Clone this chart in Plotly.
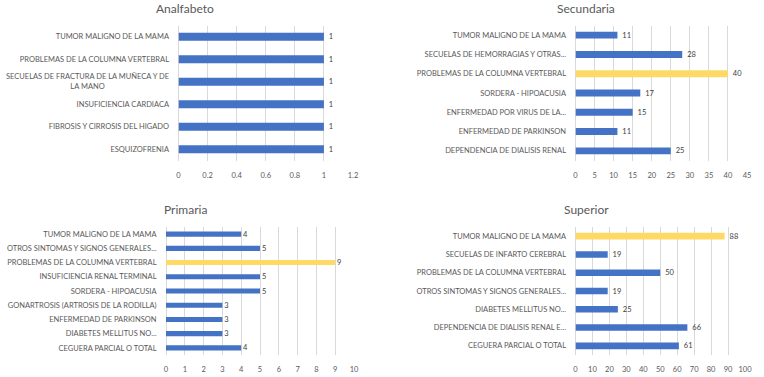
import plotly.graph_objects as go

BLUE = "#4472C4"
GOLD = "#FFD966"

anal_cats = ["TUMOR MALIGNO DE LA MAMA", "PROBLEMAS DE LA COLUMNA VERTEBRAL",
             "SECUELAS DE FRACTURA DE LA MUÑECA Y DE<br>LA MANO", "INSUFICIENCIA CARDIACA",
             "FIBROSIS Y CIRROSIS DEL HIGADO", "ESQUIZOFRENIA"]
anal_vals = [1, 1, 1, 1, 1, 1]
anal_hl = [False] * 6

sec_cats = ["TUMOR MALIGNO DE LA MAMA", "SECUELAS DE HEMORRAGIAS Y OTRAS...",
            "PROBLEMAS DE LA COLUMNA VERTEBRAL", "SORDERA - HIPOACUSIA",
            "ENFERMEDAD POR VIRUS DE LA...", "ENFERMEDAD DE PARKINSON",
            "DEPENDENCIA DE DIALISIS RENAL"]
sec_vals = [11, 28, 40, 17, 15, 11, 25]
sec_hl = [False, False, True, False, False, False, False]

pri_cats = ["TUMOR MALIGNO DE LA MAMA", "OTROS SINTOMAS Y SIGNOS GENERALES...",
            "PROBLEMAS DE LA COLUMNA VERTEBRAL", "INSUFICIENCIA RENAL TERMINAL",
            "SORDERA - HIPOACUSIA", "GONARTROSIS (ARTROSIS DE LA RODILLA)",
            "ENFERMEDAD DE PARKINSON", "DIABETES MELLITUS NO...", "CEGUERA PARCIAL O TOTAL"]
pri_vals = [4, 5, 9, 5, 5, 3, 3, 3, 4]
pri_hl = [False, False, True, False, False, False, False, False, False]

sup_cats = ["TUMOR MALIGNO DE LA MAMA", "SECUELAS DE INFARTO CEREBRAL",
            "PROBLEMAS DE LA COLUMNA VERTEBRAL", "OTROS SINTOMAS Y SIGNOS GENERALES...",
            "DIABETES MELLITUS NO...", "DEPENDENCIA DE DIALISIS RENAL E...",
            "CEGUERA PARCIAL O TOTAL"]
sup_vals = [88, 19, 50, 19, 25, 66, 61]
sup_hl = [True, False, False, False, False, False, False]

titles = ["Analfabeto", "Secundaria", "Primaria", "Superior"]

W, H = 764, 377
def px_y(p):
    return 1 - p / H
def px_x(p):
    return p / W

panels = [
    dict(cats=anal_cats, vals=anal_vals, hl=anal_hl, rng=[0, 1.2], dt=0.2,
         xd=[178.5, 353], yd=[25.5, 160.5], tx=185, ty=8),
    dict(cats=sec_cats, vals=sec_vals, hl=sec_hl, rng=[0, 45], dt=5,
         xd=[575.5, 747], yd=[25.5, 160.5], tx=586, ty=8),
    dict(cats=pri_cats, vals=pri_vals, hl=pri_hl, rng=[0, 10], dt=1,
         xd=[166, 354], yd=[227, 355], tx=185, ty=209),
    dict(cats=sup_cats, vals=sup_vals, hl=sup_hl, rng=[0, 100], dt=10,
         xd=[575.5, 745], yd=[227, 355], tx=586, ty=209),
]

FONT = "Lato"
TXT = "#595959"
TICKGAP = 7

fig = go.Figure()
layout = dict(width=W, height=H, margin=dict(l=0, r=0, t=0, b=0, autoexpand=False),
              paper_bgcolor="white", plot_bgcolor="white", showlegend=False,
              font=dict(family=FONT, color=TXT), annotations=[])

for i, p in enumerate(panels):
    n = i + 1
    xa = "x" if n == 1 else f"x{n}"
    ya = "y" if n == 1 else f"y{n}"
    fig.add_trace(go.Bar(
        y=p["cats"], x=p["vals"], orientation="h",
        marker=dict(color=[GOLD if h else BLUE for h in p["hl"]], line=dict(width=0)),
        text=["\u00a0" + str(v) for v in p["vals"]], textposition="outside",
        textfont=dict(size=7.5, color="#404040", family=FONT),
        constraintext="none",
        cliponaxis=False, width=0.36,
        xaxis=xa, yaxis=ya, hoverinfo="skip"))
    # multi-line category labels are drawn centred (as in the reference) via annotations
    ticktext = ["" if "<br>" in c else c for c in p["cats"]]
    for c in p["cats"]:
        if "<br>" in c:
            layout["annotations"].append(dict(
                text=c, x=px_x(p["xd"][0] - TICKGAP - 1), y=c, xref="paper", yref=ya,
                xanchor="right", yanchor="middle", align="center", showarrow=False,
                font=dict(size=7.5, color=TXT, family=FONT)))
    layout["xaxis" if n == 1 else f"xaxis{n}"] = dict(
        domain=[px_x(p["xd"][0]), px_x(p["xd"][1])], range=p["rng"], dtick=p["dt"],
        showgrid=True, gridcolor="#D9D9D9", gridwidth=1, zeroline=True,
        zerolinecolor="#D9D9D9", zerolinewidth=1, showline=False,
        ticks="outside", ticklen=7, tickcolor="rgba(0,0,0,0)", automargin=False,
        tickfont=dict(size=7.5, color=TXT, family=FONT), anchor=ya, fixedrange=True)
    layout["yaxis" if n == 1 else f"yaxis{n}"] = dict(
        domain=[px_y(p["yd"][1]), px_y(p["yd"][0])], autorange="reversed",
        type="category", showgrid=False, showline=False, zeroline=False,
        tickmode="array", tickvals=p["cats"], ticktext=ticktext,
        ticks="outside", ticklen=TICKGAP, tickcolor="rgba(0,0,0,0)", automargin=False,
        tickfont=dict(size=7.5, color=TXT, family=FONT), anchor=xa, fixedrange=True)
    layout["annotations"].append(dict(
        text=titles[i], x=px_x(p["tx"]), y=px_y(p["ty"]), xref="paper", yref="paper",
        xanchor="center", yanchor="middle", showarrow=False,
        font=dict(size=12, color=TXT, family=FONT)))

fig.update_layout(**layout)
fig.write_html("out.html", config={"displayModeBar": False},
               post_script="document.documentElement.style.margin='0';document.documentElement.style.overflow='hidden';document.body.style.margin='0';document.body.style.padding='0';document.body.style.overflow='hidden';")
